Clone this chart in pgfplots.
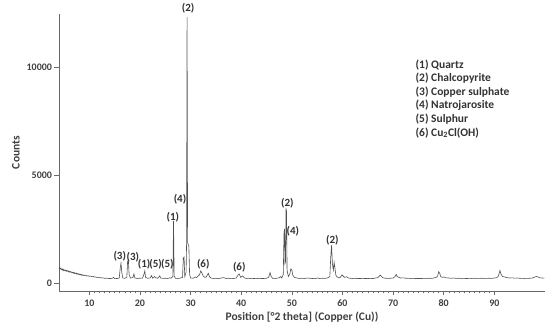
\documentclass[border=0pt]{standalone}
\usepackage{fontspec}
\setmainfont{Carlito}
\usepackage{pgfplots}
\pgfplotsset{compat=1.18}
\definecolor{trace}{RGB}{80,80,80}
\definecolor{axgray}{RGB}{105,105,105}
\begin{document}
\begin{tikzpicture}
\begin{axis}[
  at={(59pt,45pt)}, anchor=south west,
  scale only axis, width=486pt, height=277pt,
  xmin=4, xmax=100, ymin=-370, ymax=12450,
  axis x line*=bottom, axis y line*=left,
  axis line style={axgray, line width=0.8pt},
  every tick/.style={axgray, line width=0.6pt},
  tick align=outside, major tick length=4.5pt, minor tick length=2.5pt,
  xtick={10,20,...,90}, minor x tick num=9,
  ytick={0,5000,10000}, scaled y ticks=false,
  /pgf/number format/1000 sep={},
  /pgf/number format/assume math mode=true,
  tick label style={font=\fontsize{10}{12}\selectfont\bfseries, text=black!75},
  xticklabel style={yshift=-1pt},
  yticklabel style={xshift=1pt},
  xlabel={Position [°2 theta] (Copper (Cu))},
  ylabel={Counts},
  xlabel style={yshift=2pt},
  label style={font=\fontsize{11.5}{13.6}\selectfont\bfseries, text=black!75},
  clip=false,
]
\addplot[trace, line width=0.6pt] coordinates {
(4.0,680) (4.1,720) (4.2,640) (4.3,690) (4.4,660) (4.5,620) (4.6,650) (4.7,600) (4.8,640)
(4.9,580) (5.0,610) (5.1,570) (5.25,600) (5.4,550) (5.5,580) (5.6,540) (5.75,570)
(5.9,520) (6.0,550) (6.1,500) (6.25,530) (6.4,490) (6.5,510) (6.6,470) (6.75,500)
(6.9,450) (7.0,480) (7.1,440) (7.25,465) (7.4,420) (7.5,450) (7.6,410) (7.75,435)
(7.9,395) (8.0,415) (8.1,380) (8.25,405) (8.4,365) (8.5,390) (8.6,355) (8.75,375)
(9.0,340) (9.25,360) (9.5,320) (9.75,340) (10.0,305) (10.25,320) (10.5,290) (10.75,300)
(11.0,270) (11.25,285) (11.5,255) (11.75,265) (12.0,240) (12.25,250) (12.5,230) (12.75,240)
(13.0,215) (13.5,225) (14.0,205) (14.5,215) (14.8,260) (15.0,200) (15.5,210) (15.9,230) (16.1,700)
(16.25,920) (16.4,500) (16.6,230) (17.0,220) (17.4,260) (17.55,1000) (17.7,1060) (17.85,400)
(18.1,230) (18.6,250) (18.8,420) (19.0,230) (19.5,210) (20.0,220) (20.5,230) (20.8,420)
(20.95,560) (21.1,260) (21.5,220) (22.0,230) (22.3,340) (22.5,220) (22.9,300) (23.1,240)
(23.5,220) (23.9,330) (24.1,230) (24.5,215) (25.0,220) (25.5,210) (25.9,240) (26.1,220)
(26.5,300) (26.62,2880) (26.75,320) (27.0,220) (27.5,210) (28.0,230) (28.4,260) (28.55,1150)
(28.7,1200) (28.85,300) (29.1,500) (29.2,1800) (29.3,12300) (29.4,1850) (29.5,1800) (29.65,1700)
(29.8,400) (30.0,230) (30.5,220) (30.9,280) (31.2,250) (31.5,330) (31.8,400) (32.0,560)
(32.2,480) (32.5,320) (32.8,260) (33.1,280) (33.5,450) (33.7,300) (34.0,230) (34.5,210)
(35.0,220) (35.5,200) (36.0,230) (36.5,250) (37.0,210) (37.5,220) (38.0,200) (38.5,210)
(39.0,230) (39.4,380) (39.6,420) (39.9,260) (40.3,330) (40.6,240) (41.0,210) (41.5,220)
(42.0,200) (42.5,210) (43.0,200) (43.5,220) (44.0,205) (44.5,210) (45.0,220) (45.4,260)
(45.7,480) (45.9,300) (46.2,220) (46.7,210) (47.0,220) (47.5,240) (47.8,300) (48.0,230)
(48.3,400) (48.45,2300) (48.55,2500) (48.65,900) (48.75,1000) (48.85,3450) (48.95,3300) (49.05,600)
(49.3,300) (49.6,420) (49.8,650) (50.0,600) (50.2,350) (50.5,260) (51.0,230) (51.5,210)
(52.0,220) (52.5,210) (53.0,230) (53.5,220) (54.0,210) (54.5,200) (55.0,230) (55.5,210)
(56.0,220) (56.5,215) (57.0,230) (57.5,300) (57.7,1300) (57.85,1750) (58.0,900) (58.2,600)
(58.35,950) (58.5,700) (58.7,350) (59.0,270) (59.5,240) (59.9,380) (60.1,330) (60.4,260)
(60.8,290) (61.2,230) (61.5,220) (62.0,210) (62.5,215) (63.0,205) (63.5,210) (64.0,200)
(64.5,210) (65.0,205) (65.5,215) (66.0,205) (66.5,230) (67.0,250) (67.3,330) (67.5,360)
(67.7,300) (68.0,240) (68.5,220) (69.0,215) (69.5,220) (70.0,230) (70.4,300) (70.6,400)
(70.8,300) (71.1,260) (71.5,230) (72.0,240) (72.5,220) (73.0,215) (73.5,210) (74.0,215)
(74.5,205) (75.0,210) (75.5,205) (76.0,215) (76.5,210) (77.0,220) (77.5,215) (78.0,230)
(78.5,260) (78.8,320) (79.0,520) (79.2,450) (79.4,300) (79.7,260) (80.0,280) (80.4,240)
(81.0,230) (81.5,220) (82.0,230) (82.5,215) (83.0,220) (83.5,210) (84.0,215) (84.5,205)
(85.0,215) (85.5,210) (86.0,220) (86.5,210) (87.0,215) (87.5,220) (88.0,210) (88.5,215)
(89.0,220) (89.5,215) (90.0,230) (90.5,250) (90.8,320) (91.1,580) (91.3,420) (91.6,300)
(92.0,280) (92.5,250) (93.0,230) (93.5,240) (94.0,225) (94.5,230) (95.0,220) (95.5,215)
(96.0,210) (96.5,215) (97.0,220) (97.5,230) (98.0,280) (98.3,300) (98.6,280) (99.0,240)
(99.5,230) (99.9,225)
};
\begin{scope}[every node/.style={font=\fontsize{11}{13}\selectfont\bfseries, text=black!80, inner sep=0pt}]
\node at (axis cs:16.0,1250) {(3)};
\node at (axis cs:18.6,1200) {(3)};
\node at (axis cs:20.8,880) {(1)};
\node at (axis cs:23.1,880) {(5)};
\node at (axis cs:25.4,880) {(5)};
\node at (axis cs:26.5,3060) {(1)};
\node at (axis cs:27.9,3890) {(4)};
\node at (axis cs:29.5,12730) {(2)};
\node at (axis cs:32.5,880) {(6)};
\node at (axis cs:39.6,740) {(6)};
\node at (axis cs:49.1,3700) {(2)};
\node at (axis cs:50.2,2400) {(4)};
\node at (axis cs:58.0,2000) {(2)};
\node[anchor=north west, align=left, font=\fontsize{11.5}{13.6}\selectfont\bfseries]
  at (axis cs:74.4,10350) {%
(1) Quartz\\
(2) Chalcopyrite\\
(3) Copper sulphate\\
(4) Natrojarosite\\
(5) Sulphur\\
(6) Cu\textsubscript{2}Cl(OH)};
\end{scope}
\end{axis}
\path (0pt,0pt) rectangle (550pt,336pt);
\end{tikzpicture}
\end{document}
